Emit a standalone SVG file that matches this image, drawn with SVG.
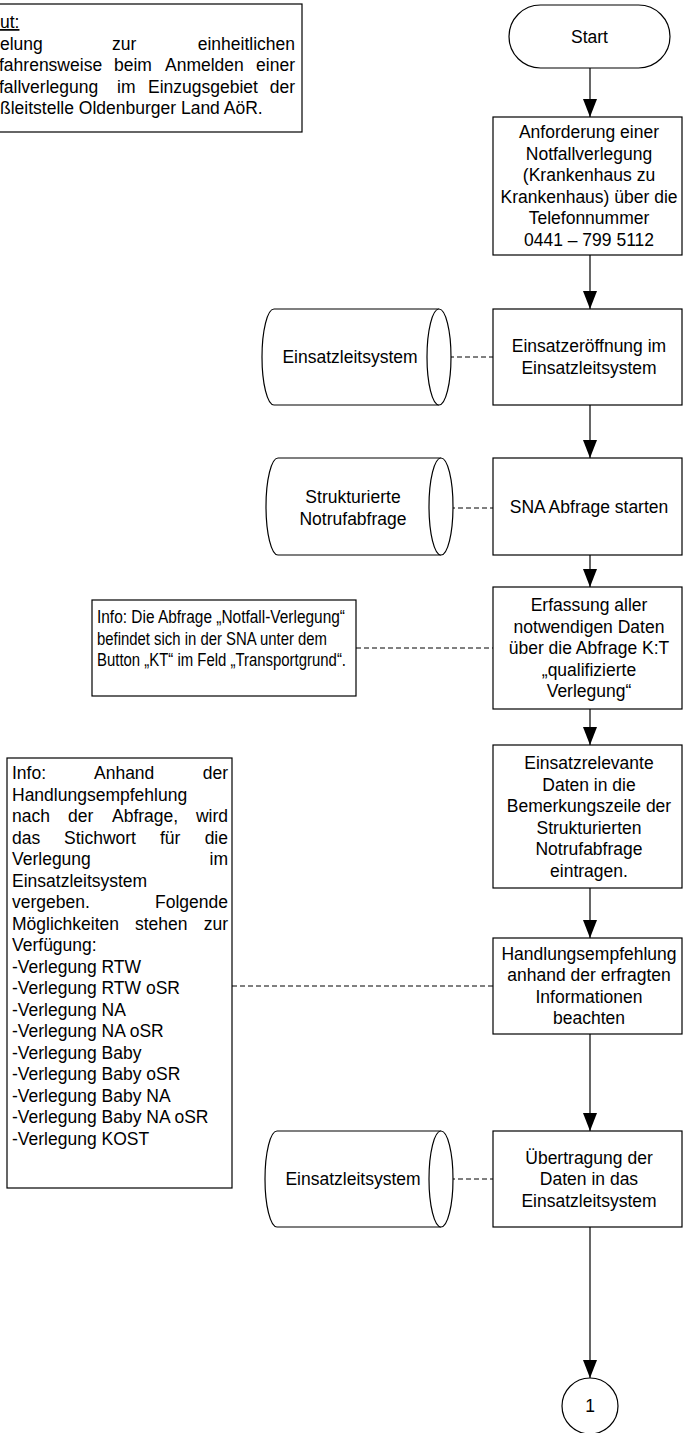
<svg xmlns="http://www.w3.org/2000/svg" width="683" height="1433" viewBox="0 0 683 1433">
<style>
text{font-family:"Liberation Sans",Arial,sans-serif;font-size:17.5px;fill:#000}
.c{text-anchor:middle}
.box{fill:#fff;stroke:#000;stroke-width:1.2}
.flow{stroke:#000;stroke-width:1.2;fill:none;marker-end:url(#ah)}
.dash{stroke:#000;stroke-width:1;stroke-dasharray:5,3;fill:none}
</style>
<defs>
<marker id="ah" markerUnits="userSpaceOnUse" markerWidth="18" markerHeight="14" refX="18" refY="7" orient="auto">
<path d="M0,0 L18,7 L0,14 z" fill="#000"/>
</marker>
</defs>
<rect width="683" height="1433" fill="#fff"/>

<g id="note-top">
<rect class="box" x="-2" y="4" width="304" height="128"/>
<text x="0" y="28" text-decoration="underline">ut:</text>
<text y="49.5"><tspan x="0">elung</tspan><tspan x="112">zur</tspan><tspan x="295" text-anchor="end">einheitlichen</tspan></text>
<text y="71"><tspan x="-1">fahrensweise</tspan><tspan x="114">beim</tspan><tspan x="165">Anmelden</tspan><tspan x="295" text-anchor="end">einer</tspan></text>
<text y="92.5"><tspan x="-1">fallverlegung</tspan><tspan x="117">im</tspan><tspan x="148">Einzugsgebiet</tspan><tspan x="295" text-anchor="end">der</tspan></text>
<text x="0" y="114">ßleitstelle Oldenburger Land AöR.</text>
</g>

<g id="connectors">
<line class="flow" x1="590" y1="68" x2="590" y2="117"/>
<line class="flow" x1="590" y1="255" x2="590" y2="309"/>
<line class="flow" x1="590" y1="405" x2="590" y2="458"/>
<line class="flow" x1="590" y1="555" x2="590" y2="587"/>
<line class="flow" x1="590" y1="709" x2="590" y2="745"/>
<line class="flow" x1="590" y1="888" x2="590" y2="938"/>
<line class="flow" x1="590" y1="1034" x2="590" y2="1131"/>
<line class="flow" x1="590" y1="1227" x2="590" y2="1378"/>
<line class="dash" x1="441" y1="357" x2="493" y2="357"/>
<line class="dash" x1="442" y1="508" x2="493" y2="508"/>
<line class="dash" x1="356" y1="648" x2="493" y2="648"/>
<line class="dash" x1="232" y1="986" x2="493" y2="986"/>
<line class="dash" x1="442" y1="1179" x2="493" y2="1179"/>
</g>

<g id="start">
<rect class="box" x="509" y="5" width="161" height="63" rx="31.5" ry="31.5"/>
<text class="c" x="589.5" y="42.5">Start</text>
</g>

<g id="anforderung">
<rect class="box" x="493" y="117" width="189" height="138"/>
<text class="c" x="589" y="138">Anforderung einer</text>
<text class="c" x="589" y="159.5">Notfallverlegung</text>
<text class="c" x="589" y="181">(Krankenhaus zu</text>
<text class="c" x="589" y="202.5">Krankenhaus) über die</text>
<text class="c" x="589" y="224">Telefonnummer</text>
<text class="c" x="589" y="245.5">0441 – 799 5112</text>
</g>

<g id="einsatzeroeffnung">
<rect class="box" x="493" y="309" width="189" height="96"/>
<text class="c" x="589" y="352">Einsatzeröffnung im</text>
<text class="c" x="589" y="373.5">Einsatzleitsystem</text>
</g>

<g id="db-els-1">
<path class="box" d="M274,309 A12,48 0 0 0 274,405 L439,405 A12,48 0 0 0 439,309 Z"/>
<path class="box" d="M439,309 A12,48 0 0 0 439,405"/>
<text class="c" x="350" y="363">Einsatzleitsystem</text>
</g>

<g id="sna-start">
<rect class="box" x="493" y="458" width="189" height="97"/>
<text class="c" x="589" y="512.5">SNA Abfrage starten</text>
</g>

<g id="db-sna">
<path class="box" d="M278,458 A12,48.5 0 0 0 278,555 L441,555 A12,48.5 0 0 0 441,458 Z"/>
<path class="box" d="M441,458 A12,48.5 0 0 0 441,555"/>
<text class="c" x="353" y="503">Strukturierte</text>
<text class="c" x="353" y="524.5">Notrufabfrage</text>
</g>

<g id="info-abfrage">
<rect class="box" x="92" y="600" width="264" height="96"/>
<text x="97" y="623" textLength="248" lengthAdjust="spacingAndGlyphs">Info: Die Abfrage „Notfall-Verlegung“</text>
<text x="97" y="644.5" textLength="230" lengthAdjust="spacingAndGlyphs">befindet sich in der SNA unter dem</text>
<text x="97" y="666" textLength="249" lengthAdjust="spacingAndGlyphs">Button „KT“ im Feld „Transportgrund“.</text>
</g>

<g id="erfassung">
<rect class="box" x="493" y="587" width="189" height="122"/>
<text class="c" x="589" y="611">Erfassung aller</text>
<text class="c" x="589" y="632.5">notwendigen Daten</text>
<text class="c" x="589" y="654">über die Abfrage K:T</text>
<text class="c" x="589" y="675.5">„qualifizierte</text>
<text class="c" x="589" y="697">Verlegung“</text>
</g>

<g id="einsatzrelevante">
<rect class="box" x="493" y="745" width="189" height="143"/>
<text class="c" x="589" y="769">Einsatzrelevante</text>
<text class="c" x="589" y="790.5">Daten in die</text>
<text class="c" x="589" y="812">Bemerkungszeile der</text>
<text class="c" x="589" y="833.5">Strukturierten</text>
<text class="c" x="589" y="855">Notrufabfrage</text>
<text class="c" x="589" y="876.5">eintragen.</text>
</g>

<g id="info-stichwort">
<rect class="box" x="7" y="758" width="225" height="430"/>
<text y="779"><tspan x="12">Info:</tspan><tspan x="94">Anhand</tspan><tspan x="228" text-anchor="end">der</tspan></text>
<text x="12" y="800.5">Handlungsempfehlung</text>
<text y="822"><tspan x="12">nach</tspan><tspan x="68">der</tspan><tspan x="112">Abfrage,</tspan><tspan x="228" text-anchor="end">wird</tspan></text>
<text y="843.5"><tspan x="12">das</tspan><tspan x="64">Stichwort</tspan><tspan x="160">für</tspan><tspan x="228" text-anchor="end">die</tspan></text>
<text y="865"><tspan x="12">Verlegung</tspan><tspan x="228" text-anchor="end">im</tspan></text>
<text x="12" y="886.5">Einsatzleitsystem</text>
<text y="908"><tspan x="12">vergeben.</tspan><tspan x="228" text-anchor="end">Folgende</tspan></text>
<text y="929.5"><tspan x="12">Möglichkeiten</tspan><tspan x="135">stehen</tspan><tspan x="228" text-anchor="end">zur</tspan></text>
<text x="12" y="951">Verfügung:</text>
<text x="12" y="972.5">-Verlegung RTW</text>
<text x="12" y="994">-Verlegung RTW oSR</text>
<text x="12" y="1015.5">-Verlegung NA</text>
<text x="12" y="1037">-Verlegung NA oSR</text>
<text x="12" y="1058.5">-Verlegung Baby</text>
<text x="12" y="1080">-Verlegung Baby oSR</text>
<text x="12" y="1101.5">-Verlegung Baby NA</text>
<text x="12" y="1123">-Verlegung Baby NA oSR</text>
<text x="12" y="1144.5">-Verlegung KOST</text>
</g>

<g id="handlungsempfehlung">
<rect class="box" x="493" y="938" width="189" height="96"/>
<text class="c" x="589" y="959.5">Handlungsempfehlung</text>
<text class="c" x="589" y="981">anhand der erfragten</text>
<text class="c" x="589" y="1002.5">Informationen</text>
<text class="c" x="589" y="1024">beachten</text>
</g>

<g id="uebertragung">
<rect class="box" x="493" y="1131" width="189" height="96"/>
<text class="c" x="589" y="1163.5">Übertragung der</text>
<text class="c" x="589" y="1185">Daten in das</text>
<text class="c" x="589" y="1206.5">Einsatzleitsystem</text>
</g>

<g id="db-els-2">
<path class="box" d="M277,1131 A12,48 0 0 0 277,1227 L441,1227 A12,48 0 0 0 441,1131 Z"/>
<path class="box" d="M441,1131 A12,48 0 0 0 441,1227"/>
<text class="c" x="353" y="1185">Einsatzleitsystem</text>
</g>

<g id="connector-1">
<circle class="box" cx="590" cy="1406" r="28"/>
<text class="c" x="590" y="1412">1</text>
</g>
</svg>
